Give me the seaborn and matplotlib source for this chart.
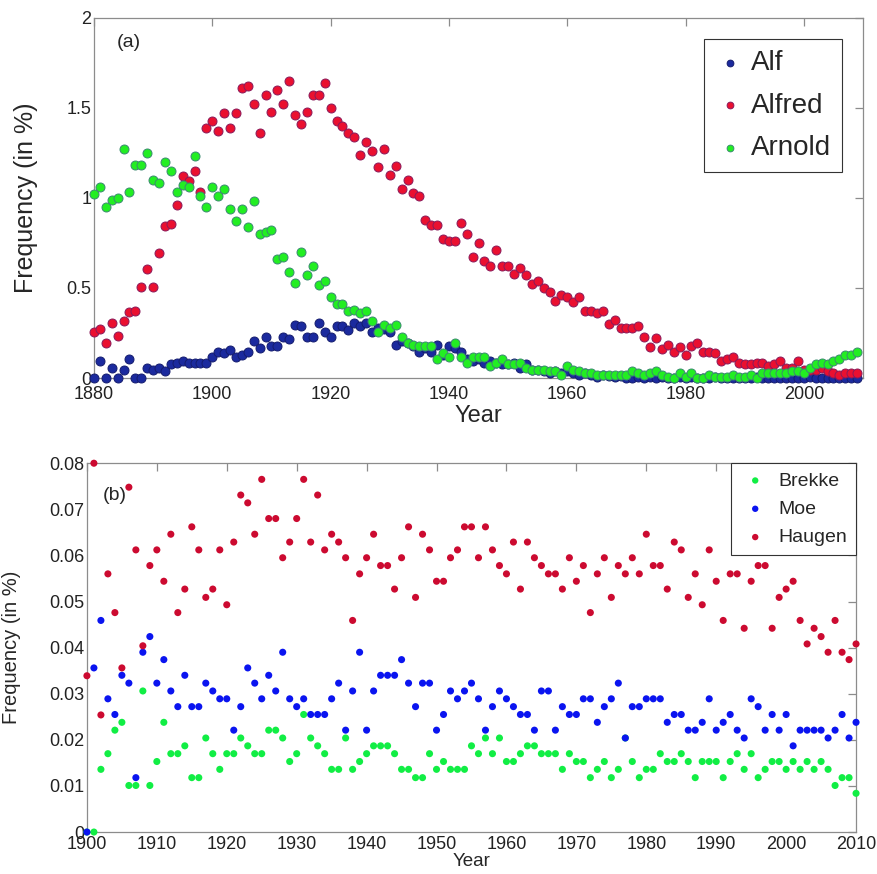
import numpy as np
import pandas as pd
import matplotlib
matplotlib.use("Agg")
import matplotlib.pyplot as plt
import seaborn as sns

# ---- data ----
years_a = list(range(1880, 2010))

alf = [
    0, 0.096, 0, 0.057, 0, 0.046, 0.106, 0, 0, 0.057,
    0.046, 0.057, 0.037, 0.076, 0.085, 0.096, 0.085, 0.085, 0.085, 0.085,
    0.117, 0.146, 0.137, 0.156, 0.117, 0.126, 0.146, 0.206, 0.167, 0.226,
    0.176, 0.176, 0.226, 0.217, 0.296, 0.287, 0.226, 0.226, 0.306, 0.256,
    0.226, 0.287, 0.287, 0.267, 0.307, 0.287, 0.307, 0.256, 0.28, 0.27,
    0.256, 0.185, 0.206, 0.196, 0.176, 0.146, 0.167, 0.146, 0.185, 0.126,
    0.176, 0.167, 0.146, 0.106, 0.096, 0.106, 0.085, 0.096, 0.085, 0.076,
    0.076, 0.085, 0.057, 0.076, 0.046, 0.046, 0.037, 0.026, 0.037, 0.026,
    0.037, 0.026, 0.017, 0.026, 0.017, 0.006, 0.017, 0.01, 0.006, 0.01,
    0.0, 0.0, 0.006, 0.0, 0.006, 0.0, 0.003, 0.0, 0.0, 0.006,
    0.0, 0.003, 0.0, 0.0, 0.0, 0.003, 0.0, 0.0, 0.0, 0.0,
    0.0, 0.0, 0.003, 0.0, 0.0, 0.0, 0.0, 0.0, 0.0, 0.0,
    0.0, 0.003, 0.0, 0.0, 0.0, 0.0, 0.0, 0.0, 0.0, 0.0,
]

alfred = [
    0.256, 0.274, 0.196, 0.306, 0.235, 0.317, 0.367, 0.374, 0.506, 0.607,
    0.506, 0.696, 0.846, 0.857, 0.959, 1.12, 1.093, 1.15, 1.031, 1.39,
    1.43, 1.37, 1.47, 1.39, 1.47, 1.61, 1.62, 1.52, 1.36, 1.57,
    1.48, 1.6, 1.52, 1.65, 1.46, 1.41, 1.48, 1.57, 1.57, 1.64,
    1.50, 1.43, 1.40, 1.36, 1.34, 1.24, 1.31, 1.26, 1.17, 1.27,
    1.13, 1.18, 1.05, 1.10, 1.03, 1.01, 0.88, 0.85, 0.85, 0.77,
    0.76, 0.76, 0.86, 0.80, 0.67, 0.75, 0.65, 0.62, 0.71, 0.62,
    0.62, 0.58, 0.61, 0.57, 0.52, 0.54, 0.50, 0.48, 0.43, 0.46,
    0.45, 0.42, 0.45, 0.37, 0.37, 0.36, 0.37, 0.30, 0.32, 0.28,
    0.28, 0.28, 0.29, 0.23, 0.17, 0.22, 0.16, 0.185, 0.146, 0.17,
    0.126, 0.176, 0.196, 0.146, 0.146, 0.137, 0.096, 0.106, 0.117, 0.085,
    0.076, 0.076, 0.085, 0.085, 0.067, 0.076, 0.096, 0.056, 0.056, 0.096,
    0.046, 0.046, 0.046, 0.056, 0.037, 0.026, 0.017, 0.026, 0.026, 0.026,
]

arnold = [
    1.022, 1.061, 0.952, 0.991, 1.002, 1.272, 1.031, 1.181, 1.181, 1.252,
    1.102, 1.081, 1.202, 1.152, 1.031, 1.072, 1.061, 1.231, 1.011, 0.952,
    1.061, 1.011, 1.052, 0.941, 0.872, 0.941, 0.841, 0.981, 0.80, 0.811,
    0.82, 0.659, 0.67, 0.589, 0.53, 0.70, 0.57, 0.62, 0.519, 0.541,
    0.45, 0.41, 0.41, 0.37, 0.38, 0.36, 0.37, 0.317, 0.256, 0.296,
    0.278, 0.296, 0.226, 0.196, 0.185, 0.176, 0.176, 0.176, 0.106, 0.137,
    0.117, 0.196, 0.117, 0.085, 0.117, 0.117, 0.117, 0.067, 0.085, 0.106,
    0.076, 0.076, 0.085, 0.057, 0.046, 0.046, 0.046, 0.037, 0.037, 0.017,
    0.067, 0.046, 0.037, 0.026, 0.026, 0.017, 0.017, 0.017, 0.017, 0.017,
    0.017, 0.037, 0.026, 0.017, 0.026, 0.037, 0.017, 0.006, 0.0, 0.026,
    0.006, 0.026, 0.0, 0.0, 0.017, 0.006, 0.006, 0.006, 0.017, 0.006,
    0.006, 0.017, 0.0, 0.026, 0.026, 0.026, 0.026, 0.026, 0.037, 0.037,
    0.026, 0.056, 0.076, 0.085, 0.076, 0.096, 0.106, 0.126, 0.126, 0.146,
]

years_b = list(range(1900, 2011))

brekke = [
    0, 0, 0.0136, 0.017, 0.0221, 0.0238, 0.0101, 0.0101, 0.0306, 0.0101,
    0.0153, 0.0238, 0.017, 0.017, 0.0187, 0.0118, 0.0118, 0.0204, 0.017, 0.0136,
    0.017, 0.017, 0.0204, 0.0187, 0.017, 0.017, 0.0221, 0.0221, 0.0204, 0.0153,
    0.017, 0.0255, 0.0204, 0.0187, 0.017, 0.0136, 0.0136, 0.0204, 0.0136, 0.0153,
    0.017, 0.0187, 0.0187, 0.0187, 0.017, 0.0136, 0.0136, 0.0118, 0.0118, 0.017,
    0.0136, 0.0153, 0.0136, 0.0136, 0.0136, 0.0187, 0.017, 0.0204, 0.017, 0.0204,
    0.0153, 0.0153, 0.017, 0.0187, 0.0187, 0.017, 0.017, 0.017, 0.0136, 0.017,
    0.0153, 0.0153, 0.0118, 0.0136, 0.0153, 0.0118, 0.0136, 0.0204, 0.0153, 0.0118,
    0.0136, 0.0136, 0.017, 0.0153, 0.0153, 0.017, 0.0153, 0.0118, 0.0153, 0.0153,
    0.0153, 0.0118, 0.0153, 0.017, 0.0136, 0.017, 0.0118, 0.0136, 0.0153, 0.0153,
    0.0136, 0.0153, 0.0136, 0.0153, 0.0136, 0.0153, 0.0136, 0.0101, 0.0118, 0.0118, 0.0084,
]

moe = [
    0, 0.0356, 0.0459, 0.0289, 0.0255, 0.034, 0.0323, 0.0118, 0.039, 0.0424,
    0.0323, 0.0374, 0.0306, 0.0272, 0.034, 0.0272, 0.0272, 0.0323, 0.0306, 0.0289,
    0.0289, 0.0221, 0.0272, 0.0356, 0.0323, 0.0289, 0.034, 0.0306, 0.039, 0.0289,
    0.0272, 0.0289, 0.0255, 0.0255, 0.0255, 0.0289, 0.0323, 0.0221, 0.0306, 0.039,
    0.0221, 0.0306, 0.034, 0.034, 0.034, 0.0374, 0.0323, 0.0272, 0.0323, 0.0323,
    0.0221, 0.0255, 0.0306, 0.0289, 0.0306, 0.0323, 0.0289, 0.0221, 0.0272, 0.0306,
    0.0289, 0.0272, 0.0255, 0.0255, 0.0221, 0.0306, 0.0306, 0.0221, 0.0272, 0.0255,
    0.0255, 0.0289, 0.0289, 0.0238, 0.0272, 0.0289, 0.0323, 0.0204, 0.0272, 0.0272,
    0.0289, 0.0289, 0.0289, 0.0238, 0.0255, 0.0255, 0.0221, 0.0221, 0.0238, 0.0289,
    0.0221, 0.0238, 0.0255, 0.0221, 0.0204, 0.0289, 0.0272, 0.0221, 0.0255, 0.0221,
    0.0255, 0.0187, 0.0221, 0.0221, 0.0221, 0.0221, 0.0204, 0.0221, 0.0255, 0.0204, 0.0238,
]

haugen = [
    0.0339, 0.080, 0.0254, 0.056, 0.0476, 0.0356, 0.0748, 0.0612, 0.0404, 0.0578,
    0.0612, 0.0544, 0.0646, 0.0476, 0.0527, 0.0662, 0.0612, 0.0509, 0.0527, 0.0612,
    0.0493, 0.0629, 0.0731, 0.0714, 0.0646, 0.0765, 0.068, 0.068, 0.0595, 0.0629,
    0.068, 0.0765, 0.0629, 0.0731, 0.0612, 0.0646, 0.0629, 0.0595, 0.0459, 0.056,
    0.0595, 0.0646, 0.0578, 0.0578, 0.0527, 0.0595, 0.0662, 0.0509, 0.0646, 0.0612,
    0.0544, 0.0544, 0.0595, 0.0612, 0.0662, 0.0662, 0.0595, 0.0662, 0.0612, 0.0578,
    0.056, 0.0629, 0.0527, 0.0629, 0.0595, 0.0578, 0.056, 0.056, 0.0527, 0.0595,
    0.0544, 0.0578, 0.0476, 0.056, 0.0595, 0.0509, 0.0578, 0.056, 0.0595, 0.056,
    0.0646, 0.0578, 0.0578, 0.0527, 0.0629, 0.0612, 0.0509, 0.056, 0.0493, 0.0612,
    0.0544, 0.0459, 0.056, 0.056, 0.0442, 0.0544, 0.0578, 0.0578, 0.0442, 0.0509,
    0.0527, 0.0544, 0.0459, 0.0408, 0.0442, 0.0424, 0.039, 0.0459, 0.039, 0.0374, 0.0408,
]

xticks_a = [1880, 1900, 1920, 1940, 1960, 1980, 2000]
yticks_a = [0, 0.5, 1, 1.5, 2]
ylabels_a = ["0", "0.5", "1", "1.5", "2"]
xticks_b = list(range(1900, 2011, 10))
yticks_b = [0, 0.01, 0.02, 0.03, 0.04, 0.05, 0.06, 0.07, 0.08]
ylabels_b = ["0", "0.01", "0.02", "0.03", "0.04", "0.05", "0.06", "0.07", "0.08"]

# ---- style ----
sns.set_style("white")
plt.rcParams["font.family"] = ["Liberation Sans", "DejaVu Sans"]

fig = plt.figure(figsize=(8.78, 8.74), dpi=100)
ax1 = fig.add_axes([0.107, 0.5675, 0.876, 0.412])
ax2 = fig.add_axes([0.099, 0.048, 0.876, 0.422])

# top panel
top_series = [
    ("Alf", alf, "#1b2a9e", "#141c6e"),
    ("Alfred", alfred, "#ea1030", "#8a1a5a"),
    ("Arnold", arnold, "#22ee22", "#3a8a70"),
]
for name, vals, face, edge in top_series:
    df = pd.DataFrame({"Year": years_a, "Frequency": vals})
    sns.scatterplot(data=df, x="Year", y="Frequency", ax=ax1, color=face,
                    edgecolor=edge, linewidth=0.7, s=42, label=name,
                    clip_on=False, zorder=3)

ax1.set_xlim(1880, 2010)
ax1.set_ylim(0, 2)
ax1.set_xticks(xticks_a)
ax1.set_yticks(yticks_a)
ax1.set_yticklabels(ylabels_a)
ax1.set_xlabel("Year", fontsize=17, labelpad=1)
ax1.set_ylabel("Frequency (in %)", fontsize=18, labelpad=20)
ax1.text(0.03, 0.955, "(a)", transform=ax1.transAxes, fontsize=14,
         ha="left", va="top")
leg1 = ax1.legend(loc="upper right", fontsize=20, markerscale=0.75,
                  handletextpad=0.2, handlelength=1.1, borderaxespad=0.75,
                  frameon=True, fancybox=False, framealpha=1,
                  borderpad=0.4, labelspacing=0.6)
leg1.get_frame().set_edgecolor("#333333")
leg1.get_frame().set_linewidth(0.8)

# bottom panel
bottom_series = [
    ("Brekke", brekke, "#11ee44"),
    ("Moe", moe, "#0a14f0"),
    ("Haugen", haugen, "#cc0a30"),
]
for name, vals, face in bottom_series:
    df = pd.DataFrame({"Year": years_b, "Frequency": vals})
    sns.scatterplot(data=df, x="Year", y="Frequency", ax=ax2, color=face,
                    edgecolor="none", s=26, label=name, clip_on=False,
                    zorder=3)

ax2.set_xlim(1900, 2010)
ax2.set_ylim(0, 0.08)
ax2.set_xticks(xticks_b)
ax2.set_yticks(yticks_b)
ax2.set_yticklabels(ylabels_b)
ax2.set_xlabel("Year", fontsize=13.5, labelpad=0)
ax2.set_ylabel("Frequency (in %)", fontsize=14.5, labelpad=20)
ax2.text(0.02, 0.935, "(b)", transform=ax2.transAxes, fontsize=14,
         ha="left", va="top")
leg2 = ax2.legend(loc="upper right", fontsize=14, markerscale=0.9,
                  handletextpad=0.4, handlelength=1.6, borderaxespad=0,
                  frameon=True, fancybox=False, framealpha=1,
                  borderpad=0.45, labelspacing=0.55)
leg2.get_frame().set_edgecolor("#333333")
leg2.get_frame().set_linewidth(0.8)

for ax in (ax1, ax2):
    for sp in ax.spines.values():
        sp.set_color("#8c8c8c")
        sp.set_linewidth(0.9)
    ax.tick_params(direction="in", top=True, right=True, length=6,
                   width=0.9, color="#8c8c8c", labelsize=13,
                   labelcolor="#222222", pad=2)
ax1.tick_params(axis="x", pad=6)
ax2.tick_params(axis="x", pad=3)

fig.savefig("out.png", dpi=100)
